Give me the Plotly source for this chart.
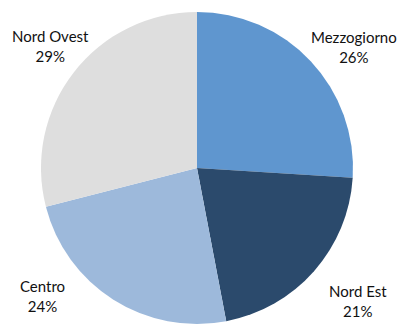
import plotly.graph_objects as go

# Regional shares
regions = ["Mezzogiorno", "Nord Est", "Centro", "Nord Ovest"]
shares = [26, 21, 24, 29]
slice_colors = ["#5F96CF", "#2B4A6C", "#9DB9DB", "#DEDEDE"]

# Label anchor positions in pixels (x, y from top) for each region
label_pos = [(354, 47), (358, 301), (42, 296), (50, 46)]

W, H = 401, 324
cx, cy, r = 197, 168, 156

fig = go.Figure(
    go.Pie(
        labels=regions,
        values=shares,
        sort=False,
        direction="clockwise",
        rotation=0,
        textinfo="none",
        hoverinfo="label+percent",
        marker=dict(colors=slice_colors, line=dict(width=0)),
        domain=dict(
            x=[(cx - r) / W, (cx + r) / W],
            y=[1 - (cy + r) / H, 1 - (cy - r) / H],
        ),
        showlegend=False,
    )
)

for name, val, (px, py) in zip(regions, shares, label_pos):
    fig.add_annotation(
        x=px / W,
        y=1 - py / H,
        xref="paper",
        yref="paper",
        text=f"{name}<br>{val}%",
        showarrow=False,
        xanchor="center",
        yanchor="middle",
        font=dict(family="Lato", size=15, color="#111111"),
        align="center",
    )

fig.update_layout(
    width=W,
    height=H,
    margin=dict(l=0, r=0, t=0, b=0),
    paper_bgcolor="white",
    plot_bgcolor="white",
)

fig.write_html("out.html")
